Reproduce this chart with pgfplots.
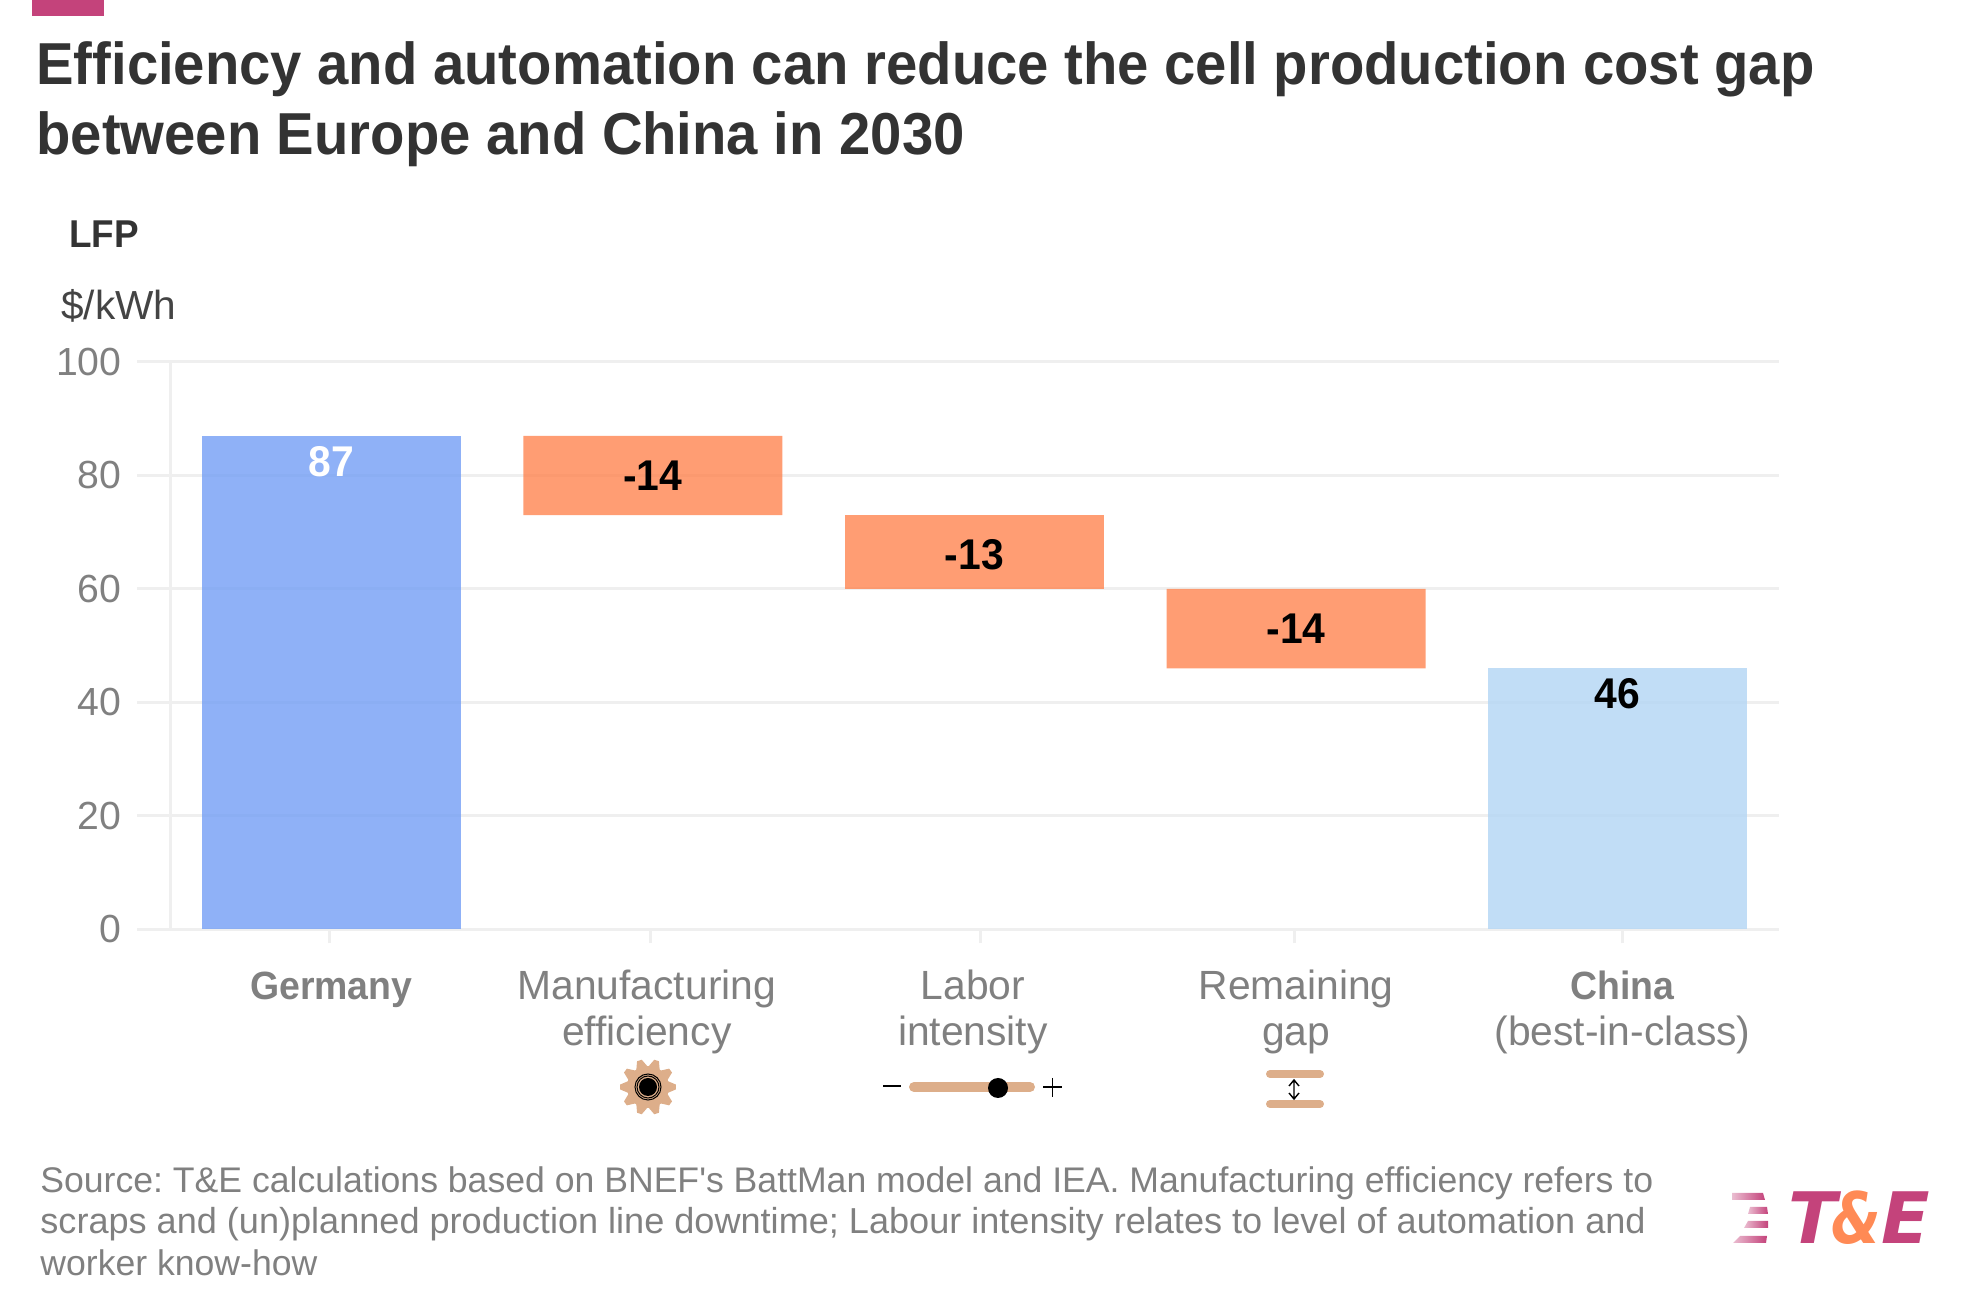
\documentclass[border=0pt]{standalone}
\usepackage{fontspec}
\usepackage{pgfplots}
\pgfplotsset{compat=1.18}
\setmainfont{Liberation Sans}[BoldFeatures={FakeStretch=0.95}]
\newfontfamily\logofont{DejaVu Sans}
\newfontfamily\logoamp{DejaVu Sans}[FakeStretch=0.8]
\definecolor{gridc}{HTML}{EFEFEF}
\definecolor{tickc}{HTML}{808080}
\definecolor{titlec}{HTML}{333333}
\definecolor{unitc}{HTML}{444444}
\definecolor{germanyc}{HTML}{739EF5}
\definecolor{dropc}{HTML}{FF8450}
\definecolor{chinac}{HTML}{B2D5F4}
\definecolor{pinkc}{HTML}{C4437B}
\definecolor{logoorange}{HTML}{FF8A55}
\definecolor{iconc}{HTML}{DDAE8A}
\newcommand{\lbl}{\fontsize{21.5}{24}\selectfont\bfseries}
\newcommand{\cat}{\fontsize{19.7}{23}\selectfont\bfseries}
\pgfplotstableread{
x base germany drop china
0 0 87 0 0
1 73 0 14 0
2 60 0 13 0
3 46 0 14 0
4 0 0 0 46
}\costs
\begin{document}
\frenchspacing
\begin{tikzpicture}
% page in reference pixels, 1px = 0.5pt
\begin{scope}[x=0.5pt,y=-0.5pt,yshift=658pt]
\path[use as bounding box] (0,0) rectangle (1964,1316);
\fill[pinkc] (32,0) rectangle (104,16);
\node[anchor=base west,inner sep=0pt,text=titlec,font=\fontsize{29.6}{35}\selectfont\bfseries] at (36,85) {Efficiency and automation can reduce the cell production cost gap};
\node[anchor=base west,inner sep=0pt,text=titlec,font=\fontsize{29.6}{35}\selectfont\bfseries] at (36,155) {between Europe and China in 2030};
\node[anchor=base west,inner sep=0pt,text=titlec,font=\fontsize{19.4}{24}\selectfont\bfseries] at (69,248) {LFP};
\node[anchor=base west,inner sep=0pt,text=unitc,font=\fontsize{20.3}{24}\selectfont] at (61,320) {\$/kWh};
% footer
\foreach \yy/\fs/\tt in {1193/17.8/{Source: T\&E calculations based on BNEF\textquotesingle s BattMan model and IEA. Manufacturing efficiency refers to},1234/18.05/{scraps and (un)planned production line downtime; Labour intensity relates to level of automation and},1276/17.8/{worker know-how}}
  \node[anchor=base west,inner sep=0pt,text=tickc,font=\fontsize{\fs}{21}\selectfont] at (40,\yy) {\tt};
% logo
\node[anchor=base west,inner sep=0pt,text=pinkc,font=\logofont\fontsize{35.5}{40}\selectfont\bfseries\itshape] at (1788,1244) {T};
\node[anchor=base west,inner sep=0pt,text=logoorange,font=\logoamp\fontsize{35.5}{40}\selectfont\bfseries\itshape] at (1831,1244) {\&};
\node[anchor=base west,inner sep=0pt,text=pinkc,font=\logofont\fontsize{35.5}{40}\selectfont\bfseries\itshape] at (1881,1244) {E};
\shade[left color=pinkc!35,right color=pinkc] (1732,1193) -- (1763,1193) -- (1765,1200) -- (1732,1200) -- cycle;
\shade[left color=pinkc!35,right color=pinkc] (1750,1207) -- (1767,1207) -- (1768,1214) -- (1748,1214) -- cycle;
\shade[left color=pinkc!35,right color=pinkc] (1748,1221) -- (1768,1221) -- (1768,1228) -- (1744,1228) -- cycle;
\shade[left color=pinkc!35,right color=pinkc] (1740,1236) -- (1767,1236) -- (1766,1243) -- (1733,1243) -- cycle;
% gear icon
\begin{scope}[shift={(648,1087)}]
\foreach \a in {0,36,...,324}
  \fill[iconc] (\a-18:20) -- (\a-5:28) -- (\a+5:28) -- (\a+18:20) -- cycle;
\fill[iconc] (0,0) circle (21);
\fill[black] (0,0) circle (9);
\draw[black,line width=0.5pt] (0,0) circle (11);
\draw[black,line width=0.5pt] (0,0) circle (13);
\end{scope}
% slider icon
\draw[black,line width=1.2pt] (883,1086) -- (901,1086);
\draw[iconc,line width=5pt,line cap=round] (914,1087) -- (1030,1087);
\fill[black] (998,1088) circle (10);
\draw[black,line width=0.7pt] (1043,1087) -- (1062,1087) (1052.5,1078) -- (1052.5,1097);
% gap icon
\draw[iconc,line width=4pt,line cap=round] (1270,1074) -- (1320,1074) (1270,1104) -- (1320,1104);
\draw[black,line width=0.7pt] (1294,1081) -- (1294,1098) (1289,1086) -- (1294,1080) -- (1299,1086) (1289,1093) -- (1294,1099) -- (1299,1093);
\end{scope}
\begin{axis}[
  at={(85.25pt,193.25pt)},anchor=south west,
  scale only axis,width=804pt,height=283.75pt,
  ybar stacked,bar width=0.805,
  xmin=-0.5,xmax=4.5,ymin=0,ymax=100,
  axis x line=bottom,axis y line=left,
  axis line style={draw=gridc,line width=1.5pt,-},
  ytick={0,20,40,60,80,100},
  ymajorgrids,grid style={draw=gridc,line width=1.5pt},
  tick align=outside,
  ytick style={draw=gridc,line width=1.5pt},
  xtick={0,0.981,1.995,3,4.015},
  xticklabels={{\cat\strut Germany},{\strut Manufacturing\\efficiency},{\strut Labor\\intensity},{\strut Remaining\\gap},{\cat\strut China\\{\fontsize{20.4}{23}\selectfont\mdseries\strut (best-in-class)}}},
  xtick style={draw=none},
  extra x ticks={-0.005,0.992,2.019,2.995,4.015},
  extra x tick labels={},
  extra x tick style={major tick length=7pt,xtick style={draw=gridc,line width=1.5pt}},
  major tick length=16.5pt,
  xticklabel style={font=\fontsize{20.4}{23}\selectfont,text=tickc,align=center,anchor=north,yshift=1.25pt},
  yticklabel style={font=\fontsize{19.6}{24}\selectfont,text=tickc,xshift=-4.5pt,/pgf/number format/assume math mode=true},
  clip=false,
  after end axis/.code={
    \node[text=white,font=\lbl] at (axis cs:0,82.4) {87};
    \node[text=black,font=\lbl] at (axis cs:1,80) {-14};
    \node[text=black,font=\lbl] at (axis cs:2,66) {-13};
    \node[text=black,font=\lbl] at (axis cs:3,53) {-14};
    \node[text=black,font=\lbl] at (axis cs:4,41.5) {46};
  },
]
\addplot[draw=none,fill=none] table[x=x,y=base] {\costs};
\addplot[draw=none,fill=germanyc,fill opacity=0.8] table[x=x,y=germany] {\costs};
\addplot[draw=none,fill=dropc,fill opacity=0.8] table[x=x,y=drop] {\costs};
\addplot[draw=none,fill=chinac,fill opacity=0.8] table[x=x,y=china] {\costs};
\end{axis}
\end{tikzpicture}
\end{document}
